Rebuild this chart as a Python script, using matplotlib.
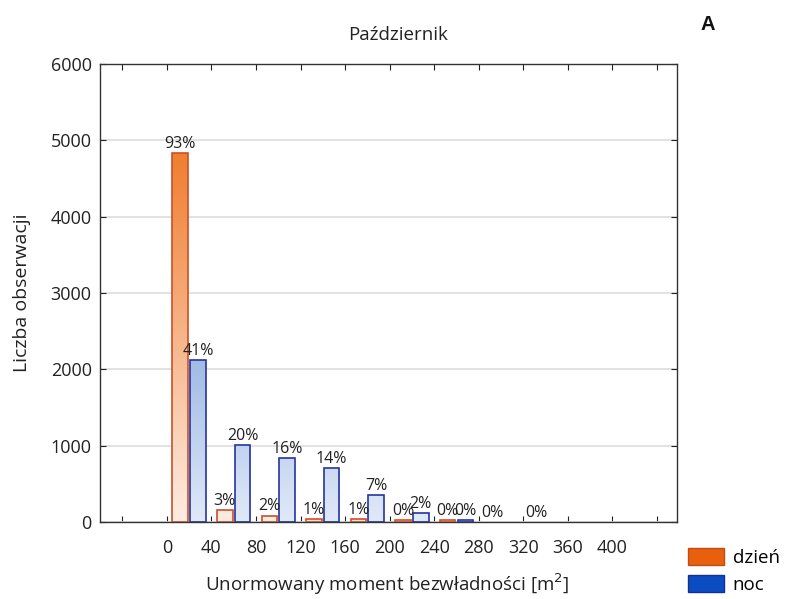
import numpy as np
import matplotlib
matplotlib.use("Agg")
import matplotlib.pyplot as plt
from matplotlib.colors import LinearSegmentedColormap
from matplotlib.patches import Patch

plt.rcParams['font.family'] = ['Open Sans', 'DejaVu Sans']

# data
bin_starts = [0, 40, 80, 120, 160, 200, 240, 280, 320]
dzien = [4830, 155, 85, 35, 40, 25, 20, 0, 0]
noc = [2120, 1010, 843, 703, 354, 118, 25, 0, 0]
dzien_pct = ["93%", "3%", "2%", "1%", "1%", "0%", "0%", "0%", "0%"]
noc_pct = ["41%", "20%", "16%", "14%", "7%", "2%", "0%", None, None]
xtick_vals = [-40, 0, 40, 80, 120, 160, 200, 240, 280, 320, 360, 400, 440]
xtick_labels = ["", "0", "40", "80", "120", "160", "200", "240", "280", "320", "360", "400", ""]
ytick_vals = [0, 1000, 2000, 3000, 4000, 5000, 6000]

fig = plt.figure(figsize=(7.9, 5.99), dpi=100)
ax = fig.add_axes([100/790, 1-522/599, 577/790, 458/599])

cmap_o = LinearSegmentedColormap.from_list("o", ["#FDEDE3", "#EF7A2A"])
cmap_b = LinearSegmentedColormap.from_list("b", ["#E0E9F8", "#4A7CCB"])
grad = np.linspace(0, 1, 256).reshape(-1, 1)
GMAX = 5000

w = 14
for xs, vals, off, cmap, ec in [(bin_starts, dzien, 12, cmap_o, "#C9502A"),
                                 (bin_starts, noc, 28, cmap_b, "#26359E")]:
    xs_arr = np.array(xs)
    vals_arr = np.array(vals)
    keep = vals_arr > 0
    bars = ax.bar(xs_arr[keep] + off, vals_arr[keep], width=w, facecolor="none",
                  edgecolor=ec, linewidth=1.2, zorder=3)
    for b in bars:
        x0 = b.get_x()
        im = ax.imshow(grad, extent=[x0, x0 + w, 0, GMAX], origin="lower",
                       cmap=cmap, aspect="auto", zorder=2)
        im.set_clip_path(b)

for x, v, t in zip(bin_starts, dzien, dzien_pct):
    if t:
        ax.text(x + 12, v + 15, t, ha="center", va="bottom", fontsize=11.5, color="#222222", zorder=4)
for x, v, t in zip(bin_starts, noc, noc_pct):
    if t:
        ax.text(x + 28, v + 15, t, ha="center", va="bottom", fontsize=11.5, color="#222222", zorder=4)

ax.set_xlim(-60, 458)
ax.set_ylim(0, 6000)
ax.set_xticks(xtick_vals)
ax.set_xticklabels(xtick_labels)
ax.set_yticks(ytick_vals)
ax.tick_params(direction="in", length=4, top=True, right=True, labelsize=13, colors="#222222")
ax.tick_params(axis="x", pad=12)
ax.tick_params(axis="y", pad=6)
for s in ax.spines.values():
    s.set_color("#333333")
    s.set_linewidth(1.0)
ax.grid(axis="y", color="#DDDDDD", linewidth=1.2, zorder=0)
ax.set_axisbelow(True)

ax.set_ylabel("Liczba obserwacji", fontsize=14, color="#222222", va="center")
ax.yaxis.set_label_coords(-(100-22)/577, 0.5)
ax.set_xlabel("Unormowany moment bezwładności [m$^2$]", fontsize=13.5, color="#222222", va="center")
ax.xaxis.set_label_coords(0.497, -(584-522)/458)
fig.text(398/790, 1-35/599, "Październik", ha="center", va="center", fontsize=13.5, color="#222222")
fig.text(708/790, 1-24/599, "A", ha="center", va="center", fontsize=14.5, fontweight="bold",
         family="Liberation Sans", color="#111111")

handles = [Patch(facecolor="#E8600C", edgecolor="#C04A1A", label="dzień"),
           Patch(facecolor="#0A4CC2", edgecolor="#1A2E8F", label="noc")]
fig.legend(handles=handles, loc="lower left", bbox_to_anchor=(680/790, -0.004), frameon=False,
           fontsize=13.5, handlelength=1.95, handleheight=0.95, handletextpad=0.45,
           labelspacing=0.45, borderaxespad=0.0)

fig.savefig("out.png", dpi=100)
